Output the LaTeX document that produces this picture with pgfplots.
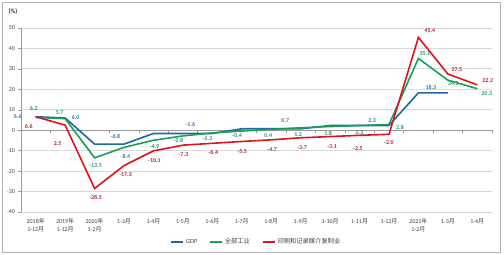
\documentclass[border=0pt]{standalone}
\usepackage{fontspec}
\setmainfont{Carlito}
\newfontfamily\cjk{Noto Sans CJK SC}
\usepackage{pgfplots}
\usepackage{pgfplotstable}
\pgfplotsset{compat=1.18}
\definecolor{gdpc}{RGB}{30,104,168}
\definecolor{indc}{RGB}{26,158,88}
\definecolor{prtc}{RGB}{224,18,28}
\definecolor{gdpl}{RGB}{52,120,178}
\definecolor{indl}{RGB}{38,150,110}
\definecolor{prtl}{RGB}{184,36,60}
\definecolor{gridc}{RGB}{217,217,217}
\definecolor{txtc}{RGB}{64,64,64}
\newcommand\nian{{\cjk 年}}
\newcommand\yue{{\cjk 月}}

% x y label dx dy
\pgfplotstableread{
x y lab dx dy
0 6.6 6.6 -18 0
1 6.0 6.0 10.5 0
2 -6.8 {} 0 0
3 -6.8 -6.8 -8.5 8
4 -1.6 {} 0 0
5 -1.6 -1.6 7.5 9.3
6 -1.6 {} 0 0
7 0.7 {} 0 0
8 0.7 0.7 14 8.6
9 0.7 {} 0 0
10 2.3 {} 0 0
11 2.3 2.3 12.5 5.3
12 2.3 {} 0 0
13 18.3 18.3 12.5 5.6
14 18.3 {} 0 0
}\gdptab

\pgfplotstableread{
x y lab dx dy
0 6.2 6.2 -2 9
1 5.7 5.7 -5.5 6
2 -13.5 -13.5 1 -7.5
3 -8.4 -8.4 1.5 -9
4 -4.9 -4.9 1 -6
5 -2.8 -2.8 -4.5 -4.5
6 -1.3 -1.3 -5 -6
7 -0.4 -0.4 -4.5 -5
8 0.4 0.4 -3 -6
9 1.2 1.2 -2.5 -6.5
10 1.8 1.8 -2 -6.5
11 2.3 2.3 0 -7
12 2.8 2.8 11 -3
13 35.1 35.1 6.5 4.5
14 24.5 24.5 5.5 -3.5
15 20.3 20.3 9.5 -4.5
}\indtab

\pgfplotstableread{
x y lab dx dy
0 6.6 6.6 -7 -9.5
1 2.5 2.5 -7.5 -18
2 -28.5 -28.5 1 -9
3 -17.3 -17.3 1.5 -8.5
4 -10.1 -10.1 1 -9.5
5 -7.3 -7.3 0.5 -9
6 -6.4 -6.4 1 -9
7 -5.5 -5.5 0.5 -10
8 -4.7 -4.7 1 -9.5
9 -3.7 -3.7 1.5 -9.5
10 -3.1 -3.1 2 -10
11 -2.5 -2.5 -1.5 -13
12 -2.0 -2.0 0 -8
13 45.4 45.4 11.5 7
14 27.5 27.5 9 4
15 22.2 22.2 10.5 4.5
}\prttab

\begin{document}
\begin{tikzpicture}
\useasboundingbox (0,0) rectangle (504bp,255bp);
\draw[black!30, line width=0.6bp] (2.5bp,3bp) rectangle (500.5bp,252.5bp);
\begin{axis}[
  at={(21bp,43bp)}, anchor=south west,
  scale only axis, width=471bp, height=184bp,
  xmin=-0.5, xmax=15.5, ymin=-40, ymax=50,
  axis lines*=left,
  x axis line style={draw=none},
  y axis line style={draw=black!40, line width=0.5bp},
  xtick={0,...,15},
  xticklabels={{2018\nian\\1-12\yue},{2019\nian\\1-12\yue},{2020\nian\\1-2\yue},
    1-3\yue,1-4\yue,1-5\yue,1-6\yue,1-7\yue,1-8\yue,1-9\yue,1-10\yue,1-11\yue,1-12\yue,
    {2021\nian\\1-2\yue},1-3\yue,1-4\yue},
  xticklabel style={align=center, font=\fontsize{6}{7.5}\selectfont, text=txtc, yshift=-0.5bp},
  xtick style={draw=none},
  ytick={-40,-30,...,50},
  yticklabel style={font=\fontsize{6}{7}\selectfont, text=txtc},
  ytick style={draw=black!40, line width=0.5bp},
  tick align=outside, major tick length=2.5bp,
  /pgf/number format/assume math mode=true,
  ymajorgrids, grid style={gridc, line width=0.9bp},
  ylabel={(\%)}, ylabel style={rotate=-90, at={(rel axis cs:-0.017,1.087)}, anchor=center, font=\fontsize{6.5}{7}\selectfont\bfseries, text=txtc},
  legend columns=3,
  legend style={at={(0.5,-0.163)}, anchor=center, draw=none, fill=none,
    font=\fontsize{6.3}{7.5}\selectfont, text=txtc,
    /tikz/every even column/.append style={column sep=10bp}},
  legend image code/.code={\draw[#1] (0bp,0bp) -- (12bp,0bp);},
  nodes near coords,
  point meta=explicit symbolic,
  visualization depends on={\thisrow{dx} \as \ddx},
  visualization depends on={\thisrow{dy} \as \ddy},
  every node near coord/.style={anchor=center, xshift=\ddx bp, yshift=\ddy bp, font=\fontsize{6}{7}\selectfont\bfseries, inner sep=0pt},
  clip=false,
]
\draw[black!40, line width=0.5bp] (axis cs:-0.5,0) -- (axis cs:15.5,0);
\pgfplotsinvokeforeach{-0.5,0.5,1.5,2.5,3.5,4.5,5.5,6.5,7.5,8.5,9.5,10.5,11.5,12.5,13.5,14.5,15.5}{
  \draw[black!40, line width=0.5bp] (axis cs:#1,0) -- ([yshift=-2.5bp]axis cs:#1,0);
}
\addplot[gdpc, line width=1.6bp, no markers, every node near coord/.append style={text=gdpl}] table[x=x, y=y, meta=lab]{\gdptab};
\addlegendentry{GDP}
\addplot[indc, line width=1.6bp, no markers, every node near coord/.append style={text=indl}] table[x=x, y=y, meta=lab]{\indtab};
\addlegendentry{{\cjk 全部工业}}
\addplot[prtc, line width=1.6bp, no markers, every node near coord/.append style={text=prtl}] table[x=x, y=y, meta=lab]{\prttab};
\addlegendentry{{\cjk 印刷和记录媒介复制业}}
\end{axis}
\end{tikzpicture}
\end{document}
